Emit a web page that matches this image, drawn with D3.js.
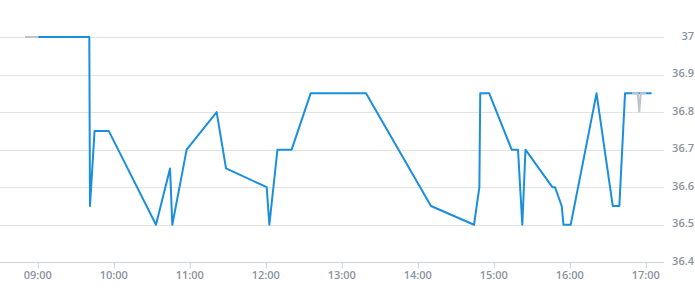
<!DOCTYPE html>
<html><head><meta charset="utf-8">
<script src="https://cdn.jsdelivr.net/npm/d3@7"></script>
<style>
html,body{margin:0;padding:0;background:#fff;}
svg{display:block;font-family:"Open Sans",sans-serif;}
</style></head>
<body><svg id="c" width="695" height="300"></svg>
<script>
// Main series (blue)
const mainTimes = ["09:00:48","09:41:03","09:41:36","09:45:12","09:56:24","10:33:42","10:44:48","10:46:36","10:57:54","11:21:36","11:29:00","12:01:06","12:03:12","12:09:36","12:20:48","12:35:48","13:19:30","14:10:48","14:44:48","14:49:00","14:49:42","14:56:48","15:14:30","15:19:30","15:22:54","15:25:24","15:46:36","15:48:42","15:54:00","15:55:24","16:01:06","16:21:30","16:34:18","16:39:30","16:44:00","17:05:00"];
const mainValues = [37,37,36.55,36.75,36.75,36.5,36.65,36.5,36.7,36.8,36.65,36.6,36.5,36.7,36.7,36.85,36.85,36.55,36.5,36.6,36.85,36.85,36.7,36.7,36.5,36.7,36.6,36.6,36.55,36.5,36.5,36.85,36.55,36.55,36.85,36.85];
// Secondary series (grey)
const greyTimesA = ["08:50:18","09:00:48"];
const greyValuesA = [37,37];
const greyTimesB = ["16:49:30","16:54:05","16:55:16","16:56:26","17:00:36"];
const greyValuesB = [36.85,36.85,36.8,36.85,36.85];
// Ticks
const xTickLabels = ["09:00","10:00","11:00","12:00","13:00","14:00","15:00","16:00","17:00"];
const yTicks = [36.4,36.5,36.6,36.7,36.8,36.9,37];

const parse = d3.timeParse("%H:%M:%S");
const parseHM = d3.timeParse("%H:%M");
const svg = d3.select("#c");
const plotLeft = 0, plotRight = 664;

const x = d3.scaleTime().domain([parseHM("09:00"), parseHM("17:00")]).range([37.3, 645.3]);
const y = d3.scaleLinear().domain([36.4, 37]).range([262.3, 37]);

// gridlines
svg.append("g").selectAll("line").data(yTicks.filter(v => v !== 36.4)).join("line")
  .attr("x1", plotLeft).attr("x2", plotRight)
  .attr("y1", d => Math.round(y(d)) + 0.5).attr("y2", d => Math.round(y(d)) + 0.5)
  .attr("stroke", "#e2e2e2").attr("stroke-width", 1);

// x axis
const xAxis = d3.axisBottom(x).tickValues(xTickLabels.map(parseHM))
  .tickFormat(d3.timeFormat("%H:%M")).tickSize(6).tickSizeOuter(0);
const gx = svg.append("g").attr("transform", `translate(0,${Math.round(y(36.4)) + 0.5})`).call(xAxis);
gx.select(".domain").remove();
gx.insert("line", ":first-child").attr("x1", plotLeft).attr("x2", plotRight).attr("y1", 0).attr("y2", 0)
  .attr("stroke", "#ccd3db");
gx.selectAll(".tick line").attr("stroke", "#ccd3db").attr("transform", "translate(0.5,0)");
gx.selectAll(".tick text").attr("fill", "#8a949e").attr("font-size", 11).attr("font-weight", 600)
  .attr("font-family", "'Open Sans',sans-serif").attr("dy", "0.71em").attr("y", 9);

// y axis labels on right
const yAxis = d3.axisRight(y).tickValues(yTicks).tickFormat(d3.format("~g")).tickSize(0);
const gy = svg.append("g").attr("transform", `translate(694,0)`).call(yAxis);
gy.select(".domain").remove();
gy.selectAll(".tick text").attr("fill", "#8a949e").attr("font-size", 11).attr("font-weight", 600)
  .attr("font-family", "'Open Sans',sans-serif").attr("text-anchor", "end").attr("x", 0).attr("dy", "0.2em");

const line = d3.line().x(d => x(d.t)).y(d => y(d.v));
const mk = (ts, vs) => ts.map((t, i) => ({t: parse(t), v: vs[i]}));

svg.append("path").datum(mk(greyTimesA, greyValuesA)).attr("d", line)
  .attr("fill", "none").attr("stroke", "#bcc5cd").attr("stroke-width", 2);
svg.append("path").datum(mk(mainTimes, mainValues)).attr("d", line)
  .attr("fill", "none").attr("stroke", "#1b8fdb").attr("stroke-width", 2).attr("stroke-linejoin", "round");
svg.append("path").datum(mk(greyTimesB, greyValuesB)).attr("d", line)
  .attr("fill", "none").attr("stroke", "#bcc5cd").attr("stroke-width", 2);
</script></body></html>
